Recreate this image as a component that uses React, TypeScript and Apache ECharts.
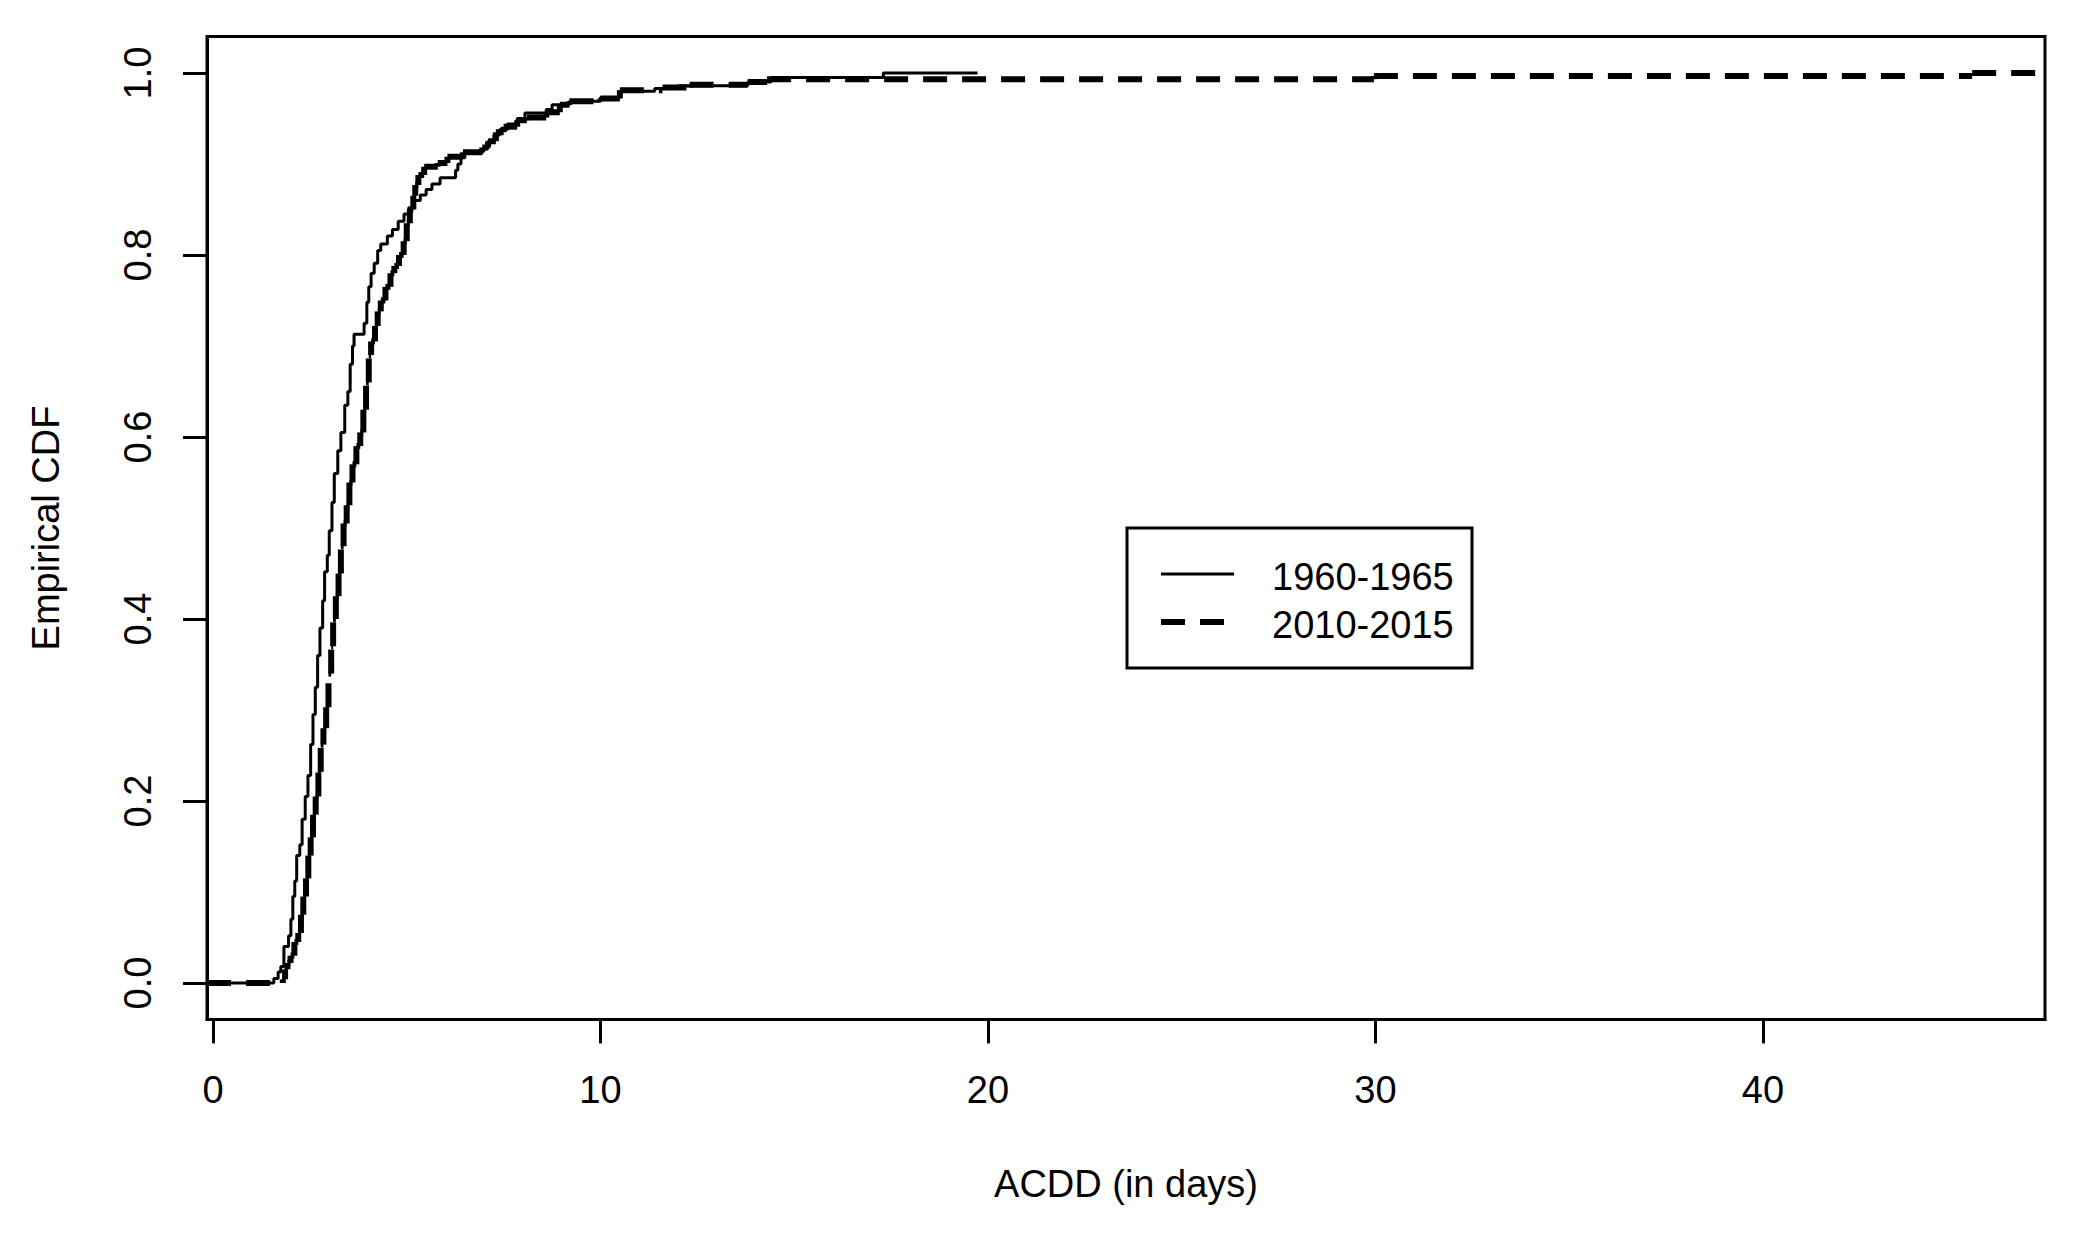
import React, { useEffect, useRef } from "react";
import * as echarts from "echarts";

// Empirical CDF step points [x (days), F(x)]
const ecdf1960: number[][] = [
  [-0.155, 0], [1.57, 0.005], [1.68, 0.012], [1.75, 0.018], [1.83, 0.04], [1.95, 0.052],
  [2.01, 0.07], [2.06, 0.095], [2.11, 0.112], [2.16, 0.14], [2.24, 0.152], [2.3, 0.18],
  [2.38, 0.205], [2.45, 0.228], [2.52, 0.262], [2.58, 0.295], [2.64, 0.325], [2.7, 0.36],
  [2.76, 0.39], [2.83, 0.42], [2.88, 0.452], [2.95, 0.47], [3.0, 0.497], [3.07, 0.528],
  [3.13, 0.56], [3.22, 0.585], [3.3, 0.605], [3.4, 0.635], [3.48, 0.65], [3.54, 0.68],
  [3.6, 0.7], [3.64, 0.713], [3.9, 0.725], [3.97, 0.748], [4.02, 0.765], [4.08, 0.78],
  [4.16, 0.791], [4.25, 0.805], [4.33, 0.812], [4.5, 0.821], [4.63, 0.828], [4.78, 0.837],
  [4.93, 0.845], [5.05, 0.852], [5.2, 0.86], [5.35, 0.866], [5.5, 0.872], [5.65, 0.878],
  [5.86, 0.885], [6.26, 0.893], [6.32, 0.9], [6.4, 0.907], [6.5, 0.912], [6.95, 0.917],
  [7.1, 0.925], [7.25, 0.932], [7.4, 0.938], [7.6, 0.944], [7.85, 0.95], [8.05, 0.956],
  [8.6, 0.96], [8.75, 0.965], [9.2, 0.969], [10.0, 0.973], [10.5, 0.98], [11.4, 0.983],
  [12.0, 0.986], [13.8, 0.99], [14.4, 0.995], [17.3, 1.0], [19.73, 1.0],
];

const ecdf2010: number[][] = [
  [-0.155, 0], [1.8, 0.004], [1.86, 0.015], [1.92, 0.022], [2.0, 0.03], [2.1, 0.045],
  [2.2, 0.055], [2.27, 0.075], [2.33, 0.095], [2.4, 0.115], [2.46, 0.14], [2.52, 0.16],
  [2.58, 0.185], [2.65, 0.205], [2.72, 0.232], [2.78, 0.262], [2.85, 0.28], [2.92, 0.303],
  [2.98, 0.34], [3.05, 0.37], [3.1, 0.4], [3.17, 0.425], [3.24, 0.45], [3.3, 0.48],
  [3.37, 0.505], [3.45, 0.525], [3.52, 0.55], [3.6, 0.57], [3.7, 0.59], [3.8, 0.605],
  [3.88, 0.63], [3.95, 0.66], [4.02, 0.69], [4.08, 0.705], [4.18, 0.722], [4.25, 0.738],
  [4.33, 0.75], [4.45, 0.765], [4.58, 0.78], [4.68, 0.788], [4.8, 0.8], [4.92, 0.815],
  [5.0, 0.835], [5.08, 0.85], [5.17, 0.865], [5.22, 0.877], [5.3, 0.888], [5.45, 0.897],
  [5.8, 0.901], [6.05, 0.908], [6.45, 0.913], [6.95, 0.918], [7.1, 0.925], [7.3, 0.935],
  [7.5, 0.941], [7.85, 0.948], [8.1, 0.951], [8.6, 0.957], [8.95, 0.965], [9.2, 0.969],
  [10.0, 0.972], [10.5, 0.981], [11.6, 0.984], [12.3, 0.987], [13.8, 0.99], [14.3, 0.993],
  [29.96, 0.9967], [45.4, 1.0], [47.28, 1.0],
];

const xTicks = [0, 10, 20, 30, 40];
const yTicks = [0, 0.2, 0.4, 0.6, 0.8, 1.0];
const xRange = [-0.155, 47.28];
const yRange = [-0.04, 1.04];
const seriesNames = ["1960-1965", "2010-2015"];
const xTitle = "ACDD (in days)";
const yTitle = "Empirical CDF";

const FONT = "'Liberation Sans', Arial, sans-serif";

export default function App() {
  const ref = useRef<HTMLDivElement>(null);
  useEffect(() => {
    if (!ref.current) return;
    const chart = echarts.init(ref.current, undefined, { renderer: "svg" });
    const dashStyle = { stroke: "#000", lineWidth: 6, lineDash: [24, 15], lineCap: "butt", fill: "none" };
    const option: any = {
      animation: false,
      backgroundColor: "#fff",
      textStyle: { fontFamily: FONT },
      grid: {
        left: 207, right: 35, top: 36.6, bottom: 216.6,
        show: true, borderColor: "#000", borderWidth: 3, backgroundColor: "transparent",
      },
      xAxis: {
        type: "value", min: xRange[0], max: xRange[1],
        splitLine: { show: false },
        axisLine: { show: true, onZero: false, lineStyle: { color: "#000", width: 3 } },
        axisTick: { show: true, customValues: xTicks, length: 24, lineStyle: { color: "#000", width: 3 } },
        axisLabel: {
          customValues: xTicks, margin: 52, color: "#000", fontSize: 38, fontFamily: FONT,
          formatter: (v: number) => String(v),
        },
      },
      yAxis: {
        type: "value", min: yRange[0], max: yRange[1],
        splitLine: { show: false },
        axisLine: { show: true, onZero: false, lineStyle: { color: "#000", width: 3 } },
        axisTick: { show: true, customValues: yTicks, length: 24, lineStyle: { color: "#000", width: 3 } },
        axisLabel: {
          customValues: yTicks, rotate: 90, margin: 50, color: "#000", fontSize: 38, fontFamily: FONT,
          formatter: (v: number) => v.toFixed(1),
        },
      },
      series: [
        {
          name: seriesNames[0], type: "line", step: "end", data: ecdf1960,
          showSymbol: false, symbol: "none", clip: true,
          lineStyle: { color: "#000", width: 3 },
        },
        {
          name: seriesNames[1], type: "custom", data: ecdf2010, clip: true,
          encode: { x: 0, y: 1 },
          renderItem: (params: any, api: any) => {
            const i = params.dataIndex;
            if (i >= ecdf2010.length - 1) return null;
            const x0 = api.value(0), y0 = api.value(1);
            const [x1, y1] = ecdf2010[i + 1];
            const p0 = api.coord([x0, y0]);
            const p1 = api.coord([x1, y0]);
            const p2 = api.coord([x1, y1]);
            const children: any[] = [
              { type: "line", shape: { x1: p0[0], y1: p0[1], x2: p1[0], y2: p1[1] }, style: dashStyle },
            ];
            if (y1 !== y0) {
              children.push({ type: "line", shape: { x1: p1[0], y1: p1[1], x2: p2[0], y2: p2[1] }, style: dashStyle });
            }
            return { type: "group", children };
          },
        },
      ],
      graphic: [
        { type: "text", x: 1126, y: 1184, style: { text: xTitle, font: `38px ${FONT}`, fill: "#000", textAlign: "center", textVerticalAlign: "middle" } },
        { type: "text", x: 46, y: 528, rotation: Math.PI / 2, style: { text: yTitle, font: `38px ${FONT}`, fill: "#000", textAlign: "center", textVerticalAlign: "middle" } },
        { type: "rect", shape: { x: 1127, y: 528, width: 345, height: 140 }, style: { fill: "#fff", stroke: "#000", lineWidth: 3 }, z: 10 },
        { type: "line", shape: { x1: 1161, y1: 574, x2: 1234, y2: 574 }, style: { stroke: "#000", lineWidth: 3 }, z: 11 },
        { type: "line", shape: { x1: 1161, y1: 622, x2: 1234, y2: 622 }, style: { stroke: "#000", lineWidth: 6, lineDash: [24, 15] }, z: 11 },
        { type: "text", x: 1272, y: 577, style: { text: seriesNames[0], font: `38px ${FONT}`, fill: "#000", textAlign: "left", textVerticalAlign: "middle" }, z: 11 },
        { type: "text", x: 1272, y: 625, style: { text: seriesNames[1], font: `38px ${FONT}`, fill: "#000", textAlign: "left", textVerticalAlign: "middle" }, z: 11 },
      ],
    };
    chart.setOption(option);
    return () => chart.dispose();
  }, []);
  return (
    <div
      ref={ref}
      style={{ position: "absolute", left: 0, top: 0, width: 2080, height: 1236, background: "#fff" }}
    />
  );
}
